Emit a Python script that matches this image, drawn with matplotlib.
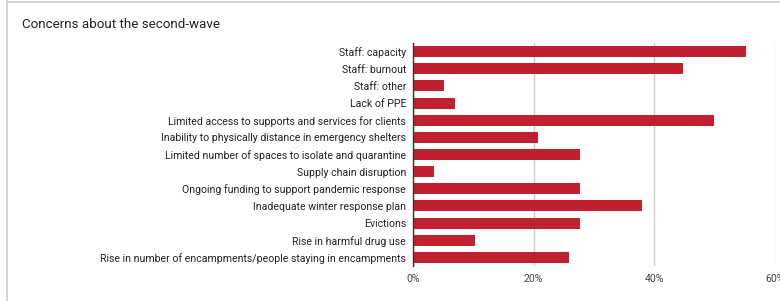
import matplotlib
matplotlib.use('Agg')
import matplotlib.pyplot as plt
from matplotlib.lines import Line2D

categories = [
    'Staff: capacity',
    'Staff: burnout',
    'Staff: other',
    'Lack of PPE',
    'Limited access to supports and services for clients',
    'Inability to physically distance in emergency shelters',
    'Limited number of spaces to isolate and quarantine',
    'Supply chain disruption',
    'Ongoing funding to support pandemic response',
    'Inadequate winter response plan',
    'Evictions',
    'Rise in harmful drug use',
    'Rise in number of encampments/people staying in encampments',
]
values = [55.2, 44.8, 5.2, 6.9, 49.9, 20.7, 27.6, 3.4, 27.6, 37.9, 27.6, 10.3, 25.9]
xticks = [0, 20, 40, 60]
xtick_labels = ['0%', '20%', '40%', '60%']

plt.rcParams['font.family'] = ['Roboto', 'DejaVu Sans']

fig = plt.figure(figsize=(7.8, 3.01), dpi=100)
ax = fig.add_axes([413 / 780, 1 - 266 / 301, (775 - 413) / 780, (266 - 43) / 301])

pos = list(range(len(categories)))
ax.barh(pos, values, height=0.64, color='#c0202f', zorder=3)

ax.set_ylim(len(categories) - 0.5, -0.5)
ax.set_yticks(pos)
ax.set_yticklabels(categories, fontsize=7.6, color='#222222')
ax.set_xlim(0, 60)
ax.set_xticks(xticks)
ax.set_xticklabels(xtick_labels, fontsize=7.6, color='#444444')
ax.tick_params(axis='both', length=0)
ax.tick_params(axis='y', pad=5)
ax.tick_params(axis='x', pad=6)

ax.grid(axis='x', color='#cccccc', linewidth=1, zorder=0)
for s in ['top', 'right', 'bottom']:
    ax.spines[s].set_visible(False)
ax.spines['left'].set_color('#333333')
ax.spines['left'].set_linewidth(1)
ax.spines['left'].set_zorder(4)

fig.text(22 / 780, 1 - 25 / 301, 'Concerns about the second-wave', fontsize=9.6,
         color='#222222', va='center', ha='left')

# light frame around the chart card
fig.add_artist(Line2D([7 / 780, 7 / 780], [0, 1 - 1 / 301], color='#cccccc', linewidth=1.2))
fig.add_artist(Line2D([7 / 780, 1], [1 - 1.5 / 301, 1 - 1.5 / 301], color='#cccccc', linewidth=1.2))

fig.savefig('out.png', dpi=100)
